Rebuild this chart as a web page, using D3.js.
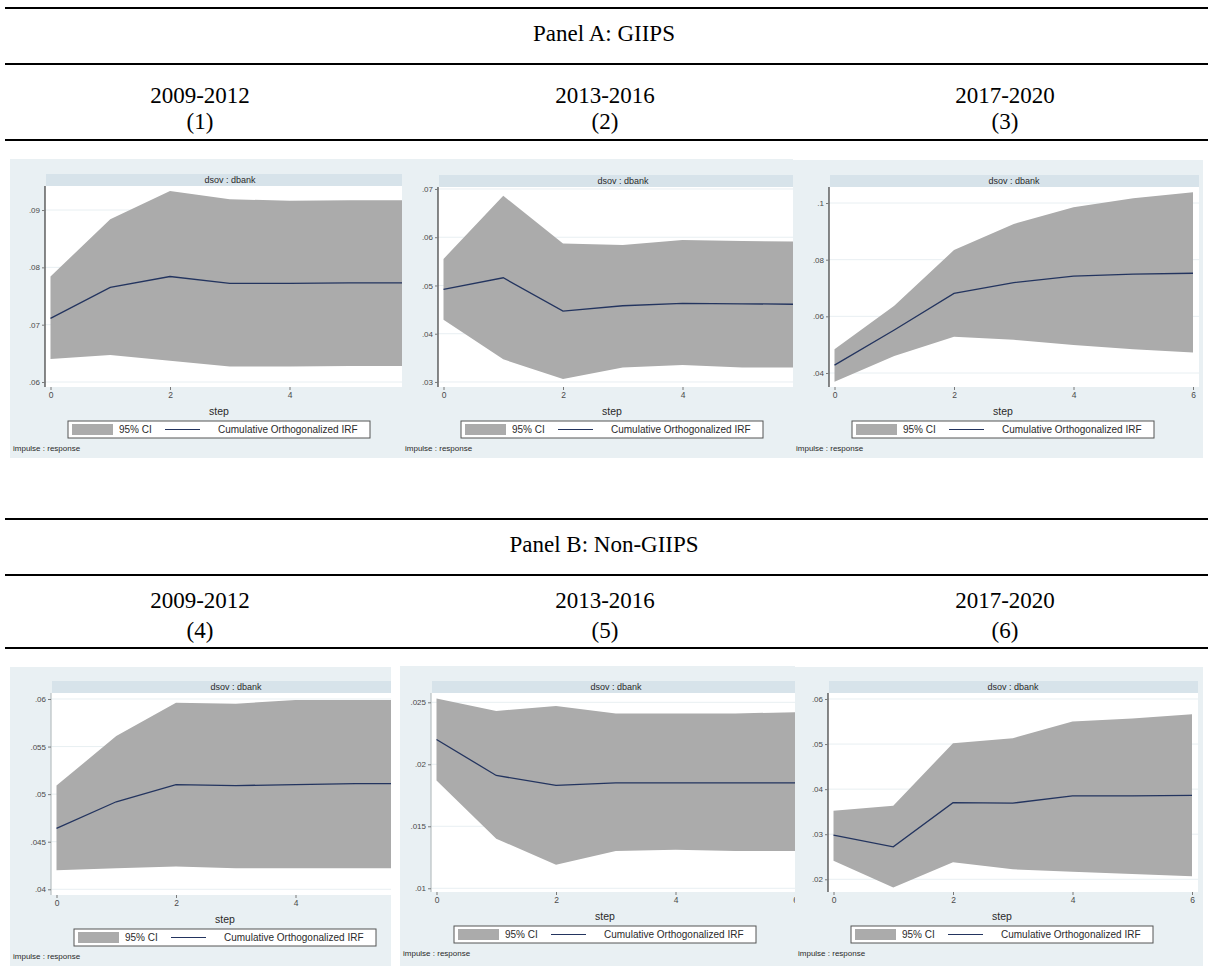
<!DOCTYPE html>
<html>
<head>
<meta charset="utf-8">
<script src="https://cdn.jsdelivr.net/npm/d3@7"></script>
<style>
  html, body { margin: 0; padding: 0; background: #ffffff; }
  svg { display: block; }
</style>
</head>
<body>
<svg id="fig" width="1208" height="970"></svg>
<script>
// Cumulative orthogonalized IRFs (impulse dsov, response dbank) by sub-period

const steps = [0, 1, 2, 3, 4, 5, 6];
const xTickValues = [0, 2, 4, 6];

const panelTitles = ["Panel A: GIIPS", "Panel B: Non-GIIPS"];
const periods = ["2009-2012", "2013-2016", "2017-2020"];
const columnNumbers = [["(1)", "(2)", "(3)"], ["(4)", "(5)", "(6)"]];

// (1) GIIPS 2009-2012
const irf1 = [0.0711, 0.0765, 0.0784, 0.0772, 0.0772, 0.0773, 0.0773];
const lo1  = [0.0640, 0.0647, 0.0637, 0.0627, 0.0627, 0.0628, 0.0628];
const hi1  = [0.0784, 0.0884, 0.0933, 0.0919, 0.0916, 0.0917, 0.0917];
const yTicks1 = [0.06, 0.07, 0.08, 0.09];

// (2) GIIPS 2013-2016
const irf2 = [0.0492, 0.0516, 0.0447, 0.0458, 0.0463, 0.0462, 0.0461];
const lo2  = [0.0429, 0.0347, 0.0306, 0.0330, 0.0335, 0.0330, 0.0330];
const hi2  = [0.0555, 0.0686, 0.0587, 0.0584, 0.0594, 0.0592, 0.0591];
const yTicks2 = [0.03, 0.04, 0.05, 0.06, 0.07];

// (3) GIIPS 2017-2020
const irf3 = [0.0428, 0.0552, 0.0681, 0.0719, 0.0742, 0.0749, 0.0752];
const lo3  = [0.0369, 0.0460, 0.0528, 0.0517, 0.0499, 0.0484, 0.0472];
const hi3  = [0.0484, 0.0637, 0.0834, 0.0926, 0.0985, 0.1017, 0.1038];
const yTicks3 = [0.04, 0.06, 0.08, 0.1];

// (4) Non-GIIPS 2009-2012
const irf4 = [0.0464, 0.0492, 0.0510, 0.0509, 0.0510, 0.0511, 0.0511];
const lo4  = [0.0420, 0.0422, 0.0424, 0.0422, 0.0422, 0.0422, 0.0422];
const hi4  = [0.0509, 0.0561, 0.0596, 0.0595, 0.0599, 0.0599, 0.0599];
const yTicks4 = [0.04, 0.045, 0.05, 0.055, 0.06];

// (5) Non-GIIPS 2013-2016
const irf5 = [0.0220, 0.0191, 0.0183, 0.0185, 0.0185, 0.0185, 0.0185];
const lo5  = [0.0187, 0.0140, 0.0119, 0.0130, 0.0131, 0.0130, 0.0130];
const hi5  = [0.0253, 0.0243, 0.0247, 0.0241, 0.0241, 0.0241, 0.0242];
const yTicks5 = [0.01, 0.015, 0.02, 0.025];

// (6) Non-GIIPS 2017-2020
const irf6 = [0.0298, 0.0272, 0.0370, 0.0369, 0.0385, 0.0385, 0.0386];
const lo6  = [0.0241, 0.0182, 0.0238, 0.0222, 0.0217, 0.0212, 0.0207];
const hi6  = [0.0352, 0.0363, 0.0502, 0.0513, 0.0550, 0.0557, 0.0566];
const yTicks6 = [0.02, 0.03, 0.04, 0.05, 0.06];

const stripTitle = "dsov : dbank";
const xTitle = "step";
const legendLabels = ["95% CI", "Cumulative Orthogonalized IRF"];
const noteText = "impulse : response";

// ---- layout ----
const series = [
  { irf: irf1, lo: lo1, hi: hi1, ticks: yTicks1 },
  { irf: irf2, lo: lo2, hi: hi2, ticks: yTicks2 },
  { irf: irf3, lo: lo3, hi: hi3, ticks: yTicks3 },
  { irf: irf4, lo: lo4, hi: hi4, ticks: yTicks4 },
  { irf: irf5, lo: lo5, hi: hi5, ticks: yTicks5 },
  { irf: irf6, lo: lo6, hi: hi6, ticks: yTicks6 }
];

const frames = [
  { clip: [10, 159, 402, 458],  axisX: 45,  top: 186, bottom: 387, yDom: [0.05913, 0.09419], axisCol: "#3a3a3a" },
  { clip: [402, 159, 793, 458], axisX: 438, top: 187, bottom: 387, yDom: [0.02896, 0.07041], axisCol: "#3a3a3a" },
  { clip: [793, 160, 1203, 458], axisX: 829, top: 187, bottom: 387, yDom: [0.03506, 0.10565], axisCol: "#3a3a3a" },
  { clip: [10, 667, 391, 966],  axisX: 51,  top: 693, bottom: 895, yDom: [0.0394, 0.06063], axisCol: "#b8bfc2" },
  { clip: [400, 666, 795, 966], axisX: 431, top: 693, bottom: 892, yDom: [0.0097, 0.02575], axisCol: "#b8bfc2" },
  { clip: [795, 667, 1203, 966], axisX: 828, top: 693, bottom: 892, yDom: [0.01718, 0.06133], axisCol: "#3a3a3a" }
];

const header = [
  { line1: 8, title: 33, line2: 64, row1: 95, row2: 121, line3: 140 },
  { line1: 519, title: 544, line2: 575, row1: 600, row2: 630, line3: 648 }
];
const colCenters = [200, 605, 1005];

const C = {
  bg: "#e9f0f3",
  strip: "#d7e3ea",
  grid: "#e8eff2",
  band: "#ababab",
  line: "#23345f",
  tickText: "#4a4a4a"
};
const serif = "'Liberation Serif', 'Times New Roman', serif";
const sans = "'Liberation Sans', Arial, Helvetica, sans-serif";
const headSize = 23;

const svg = d3.select("#fig");
const fmt = d => d3.format(".3~f")(d).replace(/^0\./, ".");

// ---- table-style headers ----
header.forEach((h, p) => {
  const g = svg.append("g");
  [h.line1, h.line2, h.line3].forEach(y => {
    g.append("line").attr("x1", 5).attr("x2", 1208).attr("y1", y).attr("y2", y)
      .attr("stroke", "#000").attr("stroke-width", 2);
  });
  g.append("text").attr("x", 604).attr("y", h.title).attr("dy", "0.35em")
    .attr("text-anchor", "middle").attr("font-family", serif).attr("font-size", headSize)
    .text(panelTitles[p]);
  periods.forEach((per, i) => {
    g.append("text").attr("x", colCenters[i]).attr("y", h.row1).attr("dy", "0.35em")
      .attr("text-anchor", "middle").attr("font-family", serif).attr("font-size", headSize)
      .text(per);
    g.append("text").attr("x", colCenters[i]).attr("y", h.row2).attr("dy", "0.35em")
      .attr("text-anchor", "middle").attr("font-family", serif).attr("font-size", headSize)
      .text(columnNumbers[p][i]);
  });
});

// ---- IRF graphs ----
const defs = svg.append("defs");

frames.forEach((f, k) => {
  const s = series[k];
  const [cx0, cy0, cx1, cy1] = f.clip;
  const plotRight = f.axisX + 370;
  const x = d3.scaleLinear().domain([0, 6]).range([f.axisX + 5.5, f.axisX + 364]);
  const y = d3.scaleLinear().domain(f.yDom).range([f.bottom, f.top]);

  defs.append("clipPath").attr("id", "crop" + k)
    .append("rect").attr("x", cx0).attr("y", cy0).attr("width", cx1 - cx0).attr("height", cy1 - cy0);

  const g = svg.append("g").attr("clip-path", `url(#crop${k})`);

  // graph region
  g.append("rect").attr("x", cx0).attr("y", cy0).attr("width", cx1 - cx0).attr("height", cy1 - cy0)
    .attr("fill", C.bg);

  // subtitle strip
  g.append("rect").attr("x", f.axisX + 1).attr("y", f.top - 12).attr("width", plotRight - f.axisX - 1)
    .attr("height", 12).attr("fill", C.strip);
  g.append("text").attr("x", (f.axisX + plotRight) / 2).attr("y", f.top - 6).attr("dy", "0.35em")
    .attr("text-anchor", "middle").attr("font-family", sans).attr("font-size", 9).attr("fill", "#2a2a2a")
    .text(stripTitle);

  // plot region
  g.append("rect").attr("x", f.axisX).attr("y", f.top).attr("width", plotRight - f.axisX)
    .attr("height", f.bottom - f.top).attr("fill", "#ffffff");

  g.append("g").selectAll("line").data(s.ticks).join("line")
    .attr("x1", f.axisX).attr("x2", plotRight)
    .attr("y1", d => y(d)).attr("y2", d => y(d))
    .attr("stroke", C.grid).attr("stroke-width", 1);

  // confidence band
  const area = d3.area().x((d, i) => x(steps[i])).y0((d, i) => y(s.lo[i])).y1((d, i) => y(s.hi[i]));
  g.append("path").datum(steps).attr("d", area).attr("fill", C.band);

  // cumulative IRF
  const line = d3.line().x((d, i) => x(steps[i])).y(d => y(d));
  g.append("path").datum(s.irf).attr("d", line).attr("fill", "none")
    .attr("stroke", C.line).attr("stroke-width", 1.3);

  // y axis
  const ya = g.append("g").attr("transform", `translate(${f.axisX},0)`)
    .call(d3.axisLeft(y).tickValues(s.ticks).tickFormat(fmt).tickSize(3).tickPadding(2));
  ya.select(".domain").attr("d", `M0,${f.top}V${f.bottom}`).attr("stroke", f.axisCol).attr("stroke-width", 1.2);
  ya.selectAll(".tick line").attr("stroke", "#7a7a7a");
  ya.selectAll(".tick text").attr("font-family", sans).attr("font-size", 8).attr("fill", C.tickText);

  // x axis (ticks only)
  const xa = g.append("g").attr("transform", `translate(0,${f.bottom})`)
    .call(d3.axisBottom(x).tickValues(xTickValues).tickFormat(d3.format("d")).tickSize(3).tickPadding(2));
  xa.select(".domain").remove();
  xa.selectAll(".tick line").attr("stroke", "#7a7a7a");
  xa.selectAll(".tick text").attr("font-family", sans).attr("font-size", 8.5).attr("fill", C.tickText);

  const mid = (f.axisX + plotRight) / 2 - 11;

  g.append("text").attr("x", mid).attr("y", f.bottom + 24).attr("dy", "0.35em")
    .attr("text-anchor", "middle").attr("font-family", sans).attr("font-size", 10.5).attr("fill", "#2a2a2a")
    .text(xTitle);

  // legend
  const lw = 302, lh = 17;
  const lx = mid - lw / 2, ly = f.bottom + 34;
  const lg = g.append("g");
  lg.append("rect").attr("x", lx).attr("y", ly).attr("width", lw).attr("height", lh)
    .attr("fill", "#ffffff").attr("stroke", "#555").attr("stroke-width", 1);
  lg.append("rect").attr("x", lx + 4).attr("y", ly + 3).attr("width", 41).attr("height", lh - 6)
    .attr("fill", C.band);
  lg.append("text").attr("x", lx + 51).attr("y", ly + lh / 2).attr("dy", "0.35em")
    .attr("font-family", sans).attr("font-size", 10).attr("fill", "#2a2a2a").text(legendLabels[0]);
  lg.append("line").attr("x1", lx + 97).attr("x2", lx + 132).attr("y1", ly + lh / 2).attr("y2", ly + lh / 2)
    .attr("stroke", C.line).attr("stroke-width", 1);
  lg.append("text").attr("x", lx + 150).attr("y", ly + lh / 2).attr("dy", "0.35em")
    .attr("font-family", sans).attr("font-size", 10).attr("fill", "#2a2a2a").text(legendLabels[1]);

  // note
  g.append("text").attr("x", cx0 + 3).attr("y", f.bottom + 61).attr("dy", "0.35em")
    .attr("font-family", sans).attr("font-size", 8).attr("fill", "#2a2a2a").text(noteText);
});
</script>
</body>
</html>
